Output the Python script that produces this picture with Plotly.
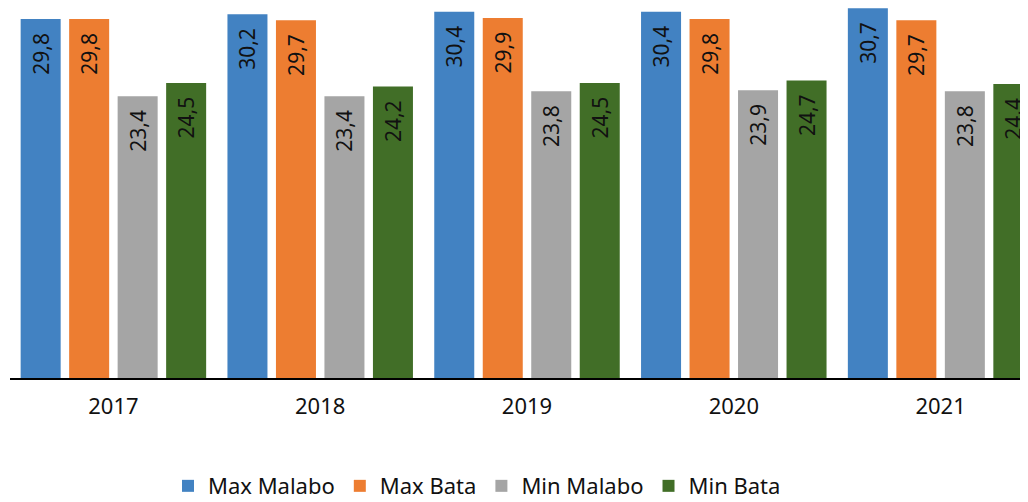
import plotly.graph_objects as go

years = ["2017", "2018", "2019", "2020", "2021"]
max_malabo = [29.8, 30.2, 30.4, 30.4, 30.7]
max_bata = [29.8, 29.7, 29.9, 29.8, 29.7]
min_malabo = [23.4, 23.4, 23.8, 23.9, 23.8]
min_bata = [24.5, 24.2, 24.5, 24.7, 24.4]

series = [
    ("Max Malabo", max_malabo, "#4282c2"),
    ("Max Bata", max_bata, "#ED7D31"),
    ("Min Malabo", min_malabo, "#A5A5A5"),
    ("Min Bata", min_bata, "#416e27"),
]

FONT = "Noto Sans"

fig = go.Figure()
for name, vals, col in series:
    fig.add_trace(go.Bar(
        x=years, y=vals, name=name,
        marker=dict(color=col, line=dict(width=0)),
        text=[f"{v:.1f}".replace(".", ",") + "\u00a0\u00a0" for v in vals],
        textposition="inside",
        insidetextanchor="end",
        textangle=-90,
        insidetextfont=dict(family=FONT, size=21, color="#111111"),
        cliponaxis=False,
        hoverinfo="skip",
    ))

# page body adds an 8px offset; the plot area runs slightly past the right edge
fig.update_layout(
    width=1036, height=494,
    margin=dict(l=2, r=0, t=0, b=124, autoexpand=False),
    paper_bgcolor="white", plot_bgcolor="white",
    barmode="group", bargap=0.062, bargroupgap=0.175,
    uniformtext=dict(minsize=21, mode="show"),
    font=dict(family=FONT, size=22, color="#111111"),
    showlegend=True,
    legend=dict(orientation="h", x=0.1528, xanchor="left", y=-0.292, yanchor="middle",
                font=dict(family=FONT, size=22, color="#111111"),
                itemwidth=30, tracegroupgap=0),
    xaxis=dict(showline=True, linecolor="black", linewidth=2, ticks="",
               ticklabelstandoff=8,
               tickfont=dict(family=FONT, size=22, color="#111111"),
               showgrid=False, zeroline=False, automargin=False),
    yaxis=dict(range=[0, 30.72], visible=False, showgrid=False, zeroline=False,
               automargin=False),
)

fig.write_html("out.html")
